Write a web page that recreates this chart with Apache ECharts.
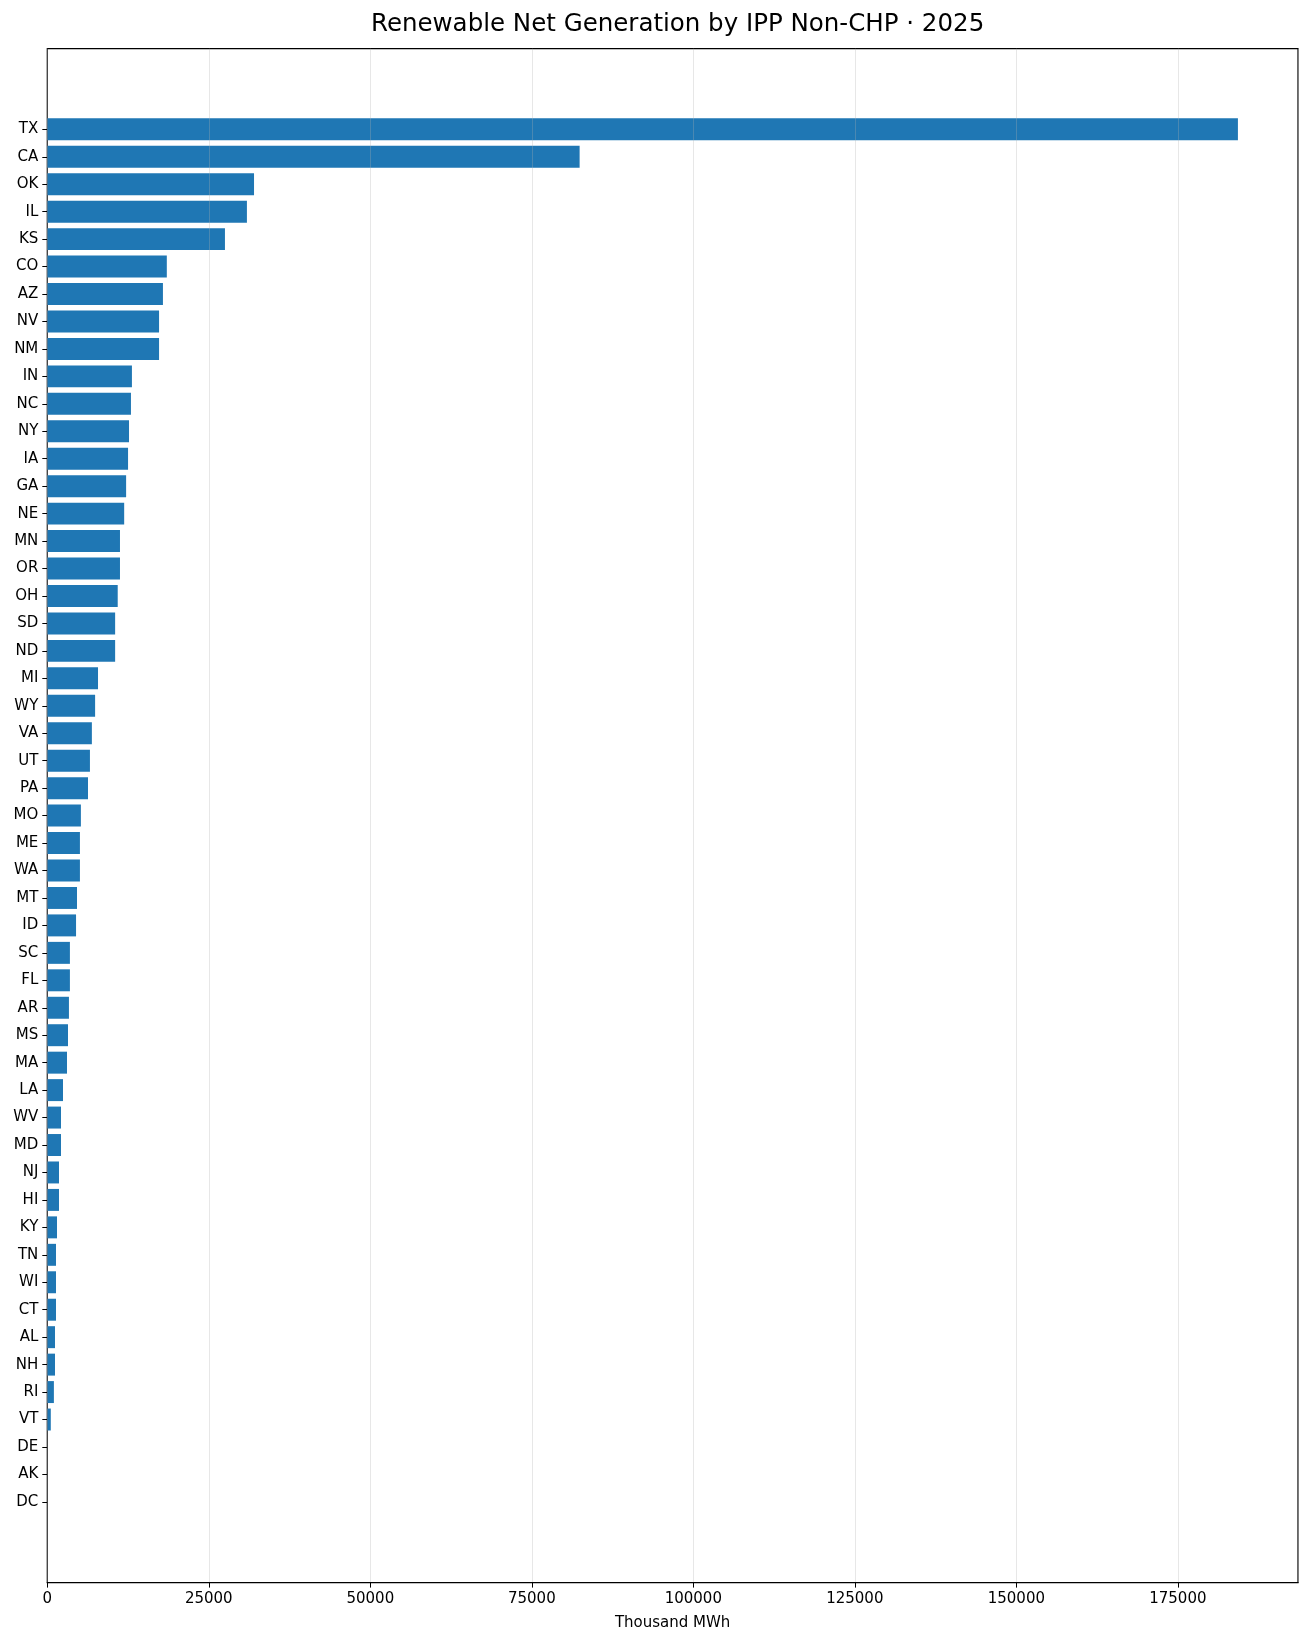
<!DOCTYPE html>
<html>
<head>
<meta charset="utf-8">
<script src="https://cdn.jsdelivr.net/npm/echarts@6/dist/echarts.min.js"></script>
<style>
  html, body { margin: 0; padding: 0; background: #fff; }
  #chart { width: 1308px; height: 1639px; }
</style>
</head>
<body>
<div id="chart"></div>
<script>
// states, largest first
var states = ["TX", "CA", "OK", "IL", "KS", "CO", "AZ", "NV", "NM", "IN", "NC", "NY", "IA",
    "GA", "NE", "MN", "OR", "OH", "SD", "ND", "MI", "WY", "VA", "UT", "PA", "MO", "ME", "WA",
    "MT", "ID", "SC", "FL", "AR", "MS", "MA", "LA", "WV", "MD", "NJ", "HI", "KY", "TN", "WI",
    "CT", "AL", "NH", "RI", "VT", "DE", "AK", "DC"];
// Thousand MWh
var generation = [184300, 82400, 32000, 30900, 27500, 18500, 17900, 17300, 17300, 13100, 12950, 12650, 12500,
    12200, 11900, 11250, 11250, 10900, 10500, 10500, 7850, 7400, 6900, 6600, 6300, 5200, 5050, 5050,
    4600, 4450, 3500, 3500, 3350, 3200, 3050, 2430, 2120, 2120, 1810, 1810, 1500, 1350, 1350,
    1350, 1190, 1190, 1020, 540, 0, 0, 0];
var xTicks = [0, 25000, 50000, 75000, 100000, 125000, 150000, 175000];
var xMax = 193600;

var font = "DejaVu Sans";
var myChart = echarts.init(document.getElementById("chart"));
var option = {
    animation: false,
    backgroundColor: "#fff",
    textStyle: { fontFamily: font },
    title: {
        // centred over the plot area, not the page
        text: "Renewable Net Generation by IPP Non-CHP \u00b7 2025",
        left: 672.6,
        textAlign: "center",
        top: 7,
        textStyle: { fontFamily: font, fontSize: 24.5, fontWeight: "normal", color: "#000" }
    },
    grid: [
        // frame + x axis
        { left: 47.3, top: 48.6, width: 1250.7, height: 1534, show: true, borderColor: "#000", borderWidth: 1.2, backgroundColor: "transparent" },
        // bars, with the category band placed like the reference
        { left: 47.3, top: 115.6, width: 1250.7, height: 1400 }
    ],
    xAxis: [
        {
            gridIndex: 0, type: "value", min: 0, max: xMax, interval: xTicks[1] - xTicks[0], z: 5,
            name: "Thousand MWh", nameLocation: "middle", nameGap: 33,
            nameTextStyle: { fontFamily: font, fontSize: 15, color: "#000" },
            axisLine: { show: true, lineStyle: { color: "#000", width: 1.2 } },
            axisTick: { show: true, length: 5, lineStyle: { color: "#000" } },
            axisLabel: {
                fontFamily: font, fontSize: 15, color: "#000", margin: 9, showMaxLabel: false,
                formatter: function (v) { return String(v); }
            },
            splitLine: { show: true, lineStyle: { color: "rgba(176,176,176,0.3)", width: 1 } }
        },
        {
            gridIndex: 1, type: "value", min: 0, max: xMax, show: false,
            splitLine: { show: false }
        }
    ],
    yAxis: [
        { gridIndex: 0, type: "value", show: false, splitLine: { show: false } },
        {
            gridIndex: 1, type: "category", data: states, inverse: true,
            axisLine: { show: false },
            axisTick: { show: true, alignWithLabel: true, length: 5, lineStyle: { color: "#000" } },
            axisLabel: { fontFamily: font, fontSize: 15, color: "#000", margin: 9 },
            splitLine: { show: false }
        }
    ],
    series: [
        {
            type: "bar",
            xAxisIndex: 1,
            yAxisIndex: 1,
            data: generation,
            barCategoryGap: "20%",
            itemStyle: { color: "#1f77b4" }
        }
    ]
};
myChart.setOption(option);
</script>
</body>
</html>
